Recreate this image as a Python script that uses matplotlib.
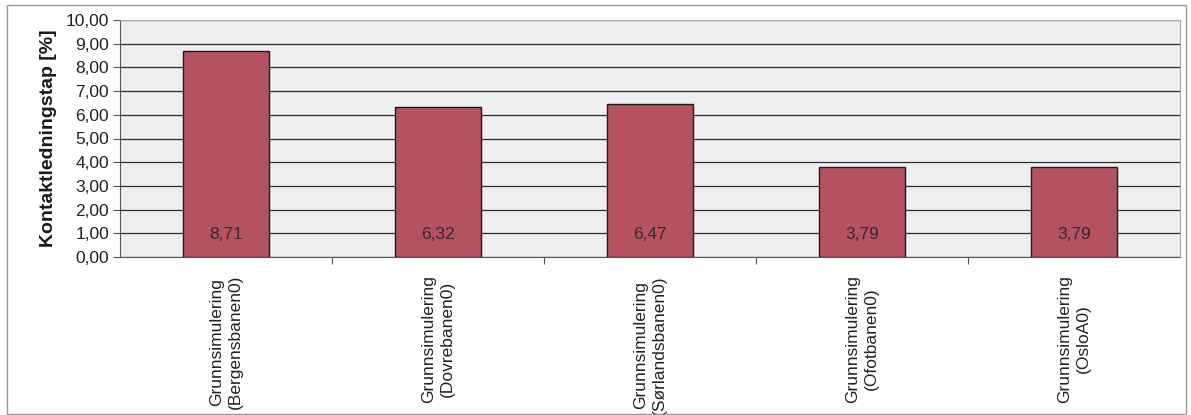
import matplotlib
matplotlib.use("Agg")
import matplotlib.pyplot as plt
from matplotlib.patches import Rectangle
from matplotlib.ticker import FixedLocator, NullFormatter

categories = ["Grunnsimulering\n(Bergensbanen0)", "Grunnsimulering\n(Dovrebanen0)",
              "Grunnsimulering\n(Sørlandsbanen0)", "Grunnsimulering\n(Ofotbanen0)",
              "Grunnsimulering\n(OsloA0)"]
values = [8.71, 6.32, 6.47, 3.79, 3.79]
value_labels = ["8,71", "6,32", "6,47", "3,79", "3,79"]
yticks = [0, 1, 2, 3, 4, 5, 6, 7, 8, 9, 10]
ytick_labels = ["0,00", "1,00", "2,00", "3,00", "4,00", "5,00", "6,00", "7,00", "8,00", "9,00", "10,00"]

plt.rcParams['font.family'] = ['Liberation Sans', 'DejaVu Sans']

fig = plt.figure(figsize=(11.91, 4.15), dpi=100)
fig.patch.set_facecolor("white")
fig.add_artist(Rectangle((7/1191, 0.003), 1 - 12/1191, 1 - 5/415 - 0.003, transform=fig.transFigure,
                         fill=False, edgecolor="#9a9a9a", linewidth=1.0))

ax = fig.add_axes([120/1191, 1 - 257/415, (1180 - 120)/1191, (257 - 20)/415])
ax.set_facecolor("#efefef")

x = list(range(len(values)))
ax.set_axisbelow(True)
ax.yaxis.grid(True, color="#2e2e2e", linewidth=0.9)
ax.bar(x, values, width=0.41, color="#b4525f", edgecolor="#1a1a1a", linewidth=1.0, zorder=3)

for xi, lab in zip(x, value_labels):
    ax.text(xi, 0.95, lab, ha="center", va="center", fontsize=12.5, color="#3a2630", zorder=4)

ax.set_xlim(-0.5, len(values) - 0.5)
ax.set_ylim(0, 10)
ax.set_yticks(yticks)
ax.set_yticklabels(ytick_labels, fontsize=12.5, color="#222222")
ax.tick_params(axis="y", length=5, color="#555555", width=0.8, pad=3)

ax.set_xticks(x)
ax.set_xticklabels(categories, rotation=90, fontsize=12.5, color="#222222", linespacing=1.3)
ax.tick_params(axis="x", which="major", length=0, pad=13)
ax.xaxis.set_minor_locator(FixedLocator([i + 0.5 for i in range(len(values) - 1)]))
ax.xaxis.set_minor_formatter(NullFormatter())
ax.tick_params(axis="x", which="minor", length=5, color="#555555", width=0.8)

for s in ["top", "right"]:
    ax.spines[s].set_color("#aaaaaa")
    ax.spines[s].set_linewidth(0.8)
ax.spines["left"].set_color("#555555")
ax.spines["bottom"].set_color("#555555")

ax.set_ylabel("Kontaktledningstap [%]", fontsize=14, fontweight="bold", labelpad=6, color="#1a1a1a")

fig.savefig("out.png", dpi=100)
